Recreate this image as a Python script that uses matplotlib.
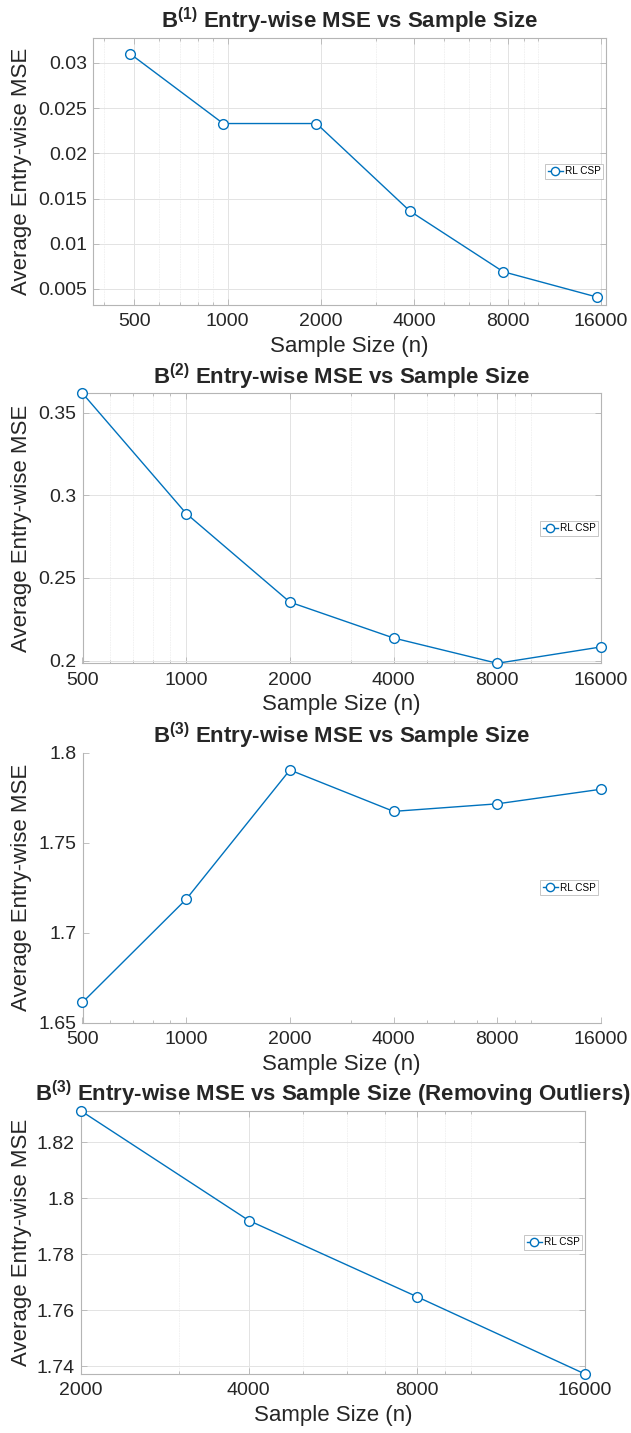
import matplotlib
matplotlib.use("Agg")
import matplotlib.pyplot as plt
from matplotlib.ticker import FixedLocator, FixedFormatter, LogLocator, NullFormatter

plt.rcParams["font.family"] = ["Liberation Sans", "DejaVu Sans"]
plt.rcParams["mathtext.fontset"] = "custom"
plt.rcParams["mathtext.rm"] = "Liberation Sans"
plt.rcParams["mathtext.bf"] = "Liberation Sans:bold"

# ---- data ----
n_b1 = [484, 968, 1935, 3870, 7740, 15480]
mse_b1 = [0.03104, 0.0233, 0.0233, 0.01362, 0.00691, 0.00412]

n_b2 = [500, 1000, 2000, 4000, 8000, 16000]
mse_b2 = [0.3617, 0.2890, 0.2354, 0.2137, 0.1984, 0.2083]

n_b3 = [500, 1000, 2000, 4000, 8000, 16000]
mse_b3 = [1.6613, 1.7186, 1.7904, 1.7674, 1.7716, 1.7797]

n_b3_clean = [2000, 4000, 8000, 16000]
mse_b3_clean = [1.8313, 1.7921, 1.7649, 1.7373]

ticks_full = [500, 1000, 2000, 4000, 8000, 16000]
ticks_clean = [2000, 4000, 8000, 16000]

BLUE = "#0072BD"
AXCOL = "#b5b5b5"
TXT = "#262626"

W, H = 631, 1433
fig = plt.figure(figsize=(W / 100, H / 100), dpi=100)


def add_axes(left, right, top, bottom):
    return fig.add_axes([left / W, 1 - bottom / H, (right - left) / W, (bottom - top) / H])


panels = [
    # (x, y, xticks, xlim, ylim, yticks, ytick labels, title, grid, box, rect)
    (n_b1, mse_b1, ticks_full, (369, 16600), (0.00323, 0.03276),
     [0.005, 0.01, 0.015, 0.02, 0.025, 0.03],
     ["0.005", "0.01", "0.015", "0.02", "0.025", "0.03"],
     r"$\mathbf{B^{(1)}}$ Entry-wise MSE vs Sample Size", True, True,
     (93.3, 606, 38, 305)),
    (n_b2, mse_b2, ticks_full, (500, 16000), (0.1984, 0.3617),
     [0.2, 0.25, 0.3, 0.35], ["0.2", "0.25", "0.3", "0.35"],
     r"$\mathbf{B^{(2)}}$ Entry-wise MSE vs Sample Size", True, True,
     (82.5, 601, 393.3, 663.3)),
    (n_b3, mse_b3, ticks_full, (500, 16000), (1.65, 1.80),
     [1.65, 1.7, 1.75, 1.8], ["1.65", "1.7", "1.75", "1.8"],
     r"$\mathbf{B^{(3)}}$ Entry-wise MSE vs Sample Size", False, False,
     (82.5, 601, 752.7, 1022.7)),
    (n_b3_clean, mse_b3_clean, ticks_clean, (2000, 16000), (1.7373, 1.8313),
     [1.74, 1.76, 1.78, 1.8, 1.82], ["1.74", "1.76", "1.78", "1.8", "1.82"],
     r"$\mathbf{B^{(3)}}$ Entry-wise MSE vs Sample Size (Removing Outliers)", True, True,
     (80.7, 585, 1110.7, 1374)),
]

for x, y, xt, xl, yl, yt, ytl, title, grid, box, rect in panels:
    ax = add_axes(*rect)
    ax.plot(x, y, "-o", color=BLUE, lw=1.0, ms=7, mfc="white", mec=BLUE, mew=1.0,
            label="RL CSP", clip_on=False, zorder=3)
    ax.set_xscale("log")
    ax.set_xlim(*xl)
    ax.set_ylim(*yl)
    ax.xaxis.set_major_locator(FixedLocator(xt))
    ax.xaxis.set_major_formatter(FixedFormatter([str(t) for t in xt]))
    ax.xaxis.set_minor_locator(LogLocator(base=10, subs=range(1, 10)))
    ax.xaxis.set_minor_formatter(NullFormatter())
    ax.set_yticks(yt)
    ax.set_yticklabels(ytl)

    for s in ax.spines.values():
        s.set_color(AXCOL)
        s.set_linewidth(0.8)
    if not box:
        ax.spines["top"].set_visible(False)
        ax.spines["right"].set_visible(False)

    ax.tick_params(which="both", direction="in", color=AXCOL, width=0.6,
                   top=box, right=box, labelcolor=TXT, labelsize=14)
    ax.tick_params(which="major", length=4)
    ax.tick_params(which="minor", length=2.5)
    ax.tick_params(axis="x", pad=6)
    ax.tick_params(axis="y", pad=4.5)

    if grid:
        ax.grid(True, which="major", color="#e3e3e3", lw=0.7)
        ax.grid(True, which="minor", axis="x", color="#f0f0f0", lw=0.6, ls=(0, (2, 1)))
        ax.set_axisbelow(True)

    ax.set_title(title, fontsize=16, fontweight="bold", color=TXT, pad=6.8)
    ax.set_xlabel("Sample Size (n)", fontsize=16, color=TXT, labelpad=4)
    ax.set_ylabel("Average Entry-wise MSE", fontsize=16, color=TXT)
    left, right = rect[0], rect[1]
    ax.yaxis.set_label_coords((32.5 - left) / (right - left), 0.5)

    leg = ax.legend(loc="center right", fontsize=7.2, frameon=True, fancybox=False,
                    framealpha=1, edgecolor="#bdbdbd", borderpad=0.25,
                    handlelength=1.5, handletextpad=0.2, borderaxespad=0.3,
                    markerscale=0.85)
    leg.get_frame().set_linewidth(0.6)

fig.savefig("out.png", dpi=100)
